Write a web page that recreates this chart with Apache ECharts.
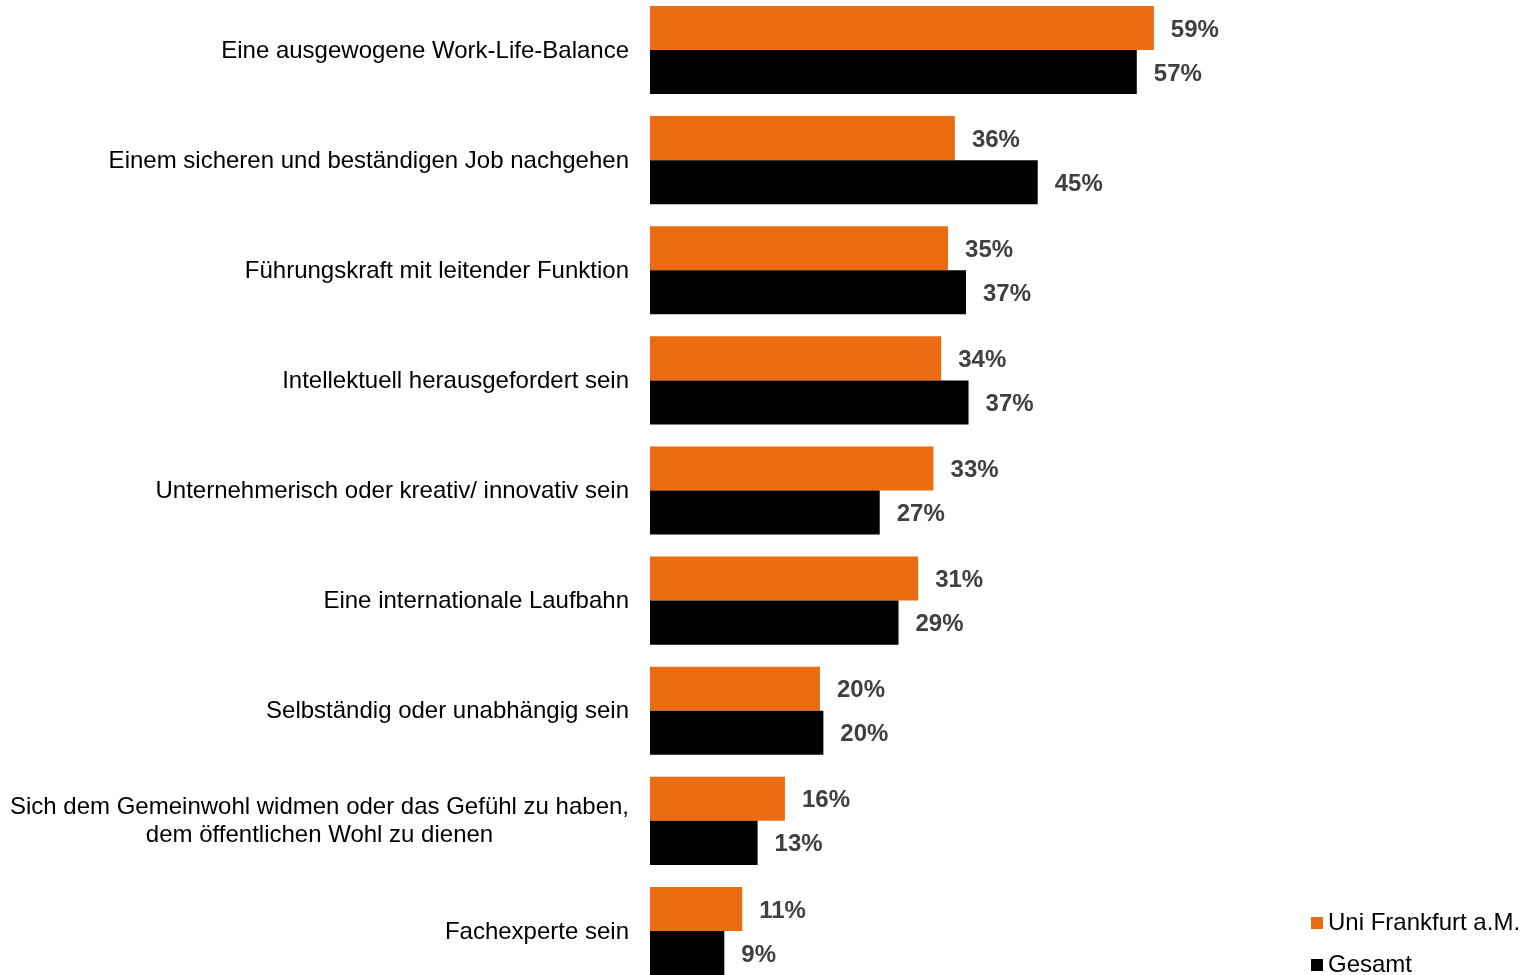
<!DOCTYPE html>
<html>
<head>
<meta charset="utf-8">
<script src="https://cdn.jsdelivr.net/npm/echarts@6/dist/echarts.min.js"></script>
<style>
html,body{margin:0;padding:0;background:#fff;overflow:hidden;}
#chart{width:1524px;height:992px;margin-top:-5px;}
</style>
</head>
<body>
<div id="chart"></div>
<script>
const categories = [
  'Eine ausgewogene Work-Life-Balance',
  'Einem sicheren und beständigen Job nachgehen',
  'Führungskraft mit leitender Funktion',
  'Intellektuell herausgefordert sein',
  'Unternehmerisch oder kreativ/ innovativ sein',
  'Eine internationale Laufbahn',
  'Selbständig oder unabhängig sein',
  'Sich dem Gemeinwohl widmen oder das Gefühl zu haben,\ndem öffentlichen Wohl zu dienen',
  'Fachexperte sein'
];
const seriesNames = ['Uni Frankfurt a.M.', 'Gesamt'];
const uniFrankfurt = [59, 35.7, 34.9, 34.1, 33.2, 31.4, 19.9, 15.8, 10.8];
const gesamt = [57, 45.4, 37.0, 37.3, 26.9, 29.1, 20.3, 12.6, 8.7];
const colors = ['#EC6C12', '#000000'];

const FONT = '"Liberation Sans", Arial, sans-serif';
const chart = echarts.init(document.getElementById('chart'));

const labelStyle = {
  show: true,
  position: 'right',
  distance: 17,
  offset: [0, 2],
  fontFamily: FONT,
  fontSize: 24,
  fontWeight: 'bold',
  color: '#404040',
  formatter: p => Math.round(p.value) + '%'
};

chart.setOption({
  animation: false,
  backgroundColor: '#ffffff',
  legend: {
    orient: 'vertical',
    left: 1311,
    top: 916,
    padding: 0,
    itemGap: 18,
    icon: 'rect',
    itemWidth: 12,
    itemHeight: 12,
    textStyle: { fontFamily: FONT, fontSize: 24, color: '#000', lineHeight: 24 },
    data: seriesNames
  },
  grid: { left: 650, top: 0, width: 854, height: 991, containLabel: false },
  xAxis: { type: 'value', min: 0, max: 100, show: false },
  yAxis: {
    type: 'category',
    inverse: true,
    data: categories,
    axisLine: { show: false },
    axisTick: { show: false },
    splitLine: { show: false },
    axisLabel: {
      margin: 21,
      fontFamily: FONT,
      fontSize: 24,
      color: '#000',
      formatter: v => v.split('\n').map(s => '{c|' + s + '}').join('\n'),
      rich: { c: { align: 'center', fontFamily: FONT, fontSize: 24, color: '#000', lineHeight: 28, padding: [2, 0, 0, 0] } }
    }
  },
  series: [
    { name: seriesNames[0], type: 'bar', data: uniFrankfurt, itemStyle: { color: colors[0] },
      barGap: '0%', barCategoryGap: '20%', label: labelStyle },
    { name: seriesNames[1], type: 'bar', data: gesamt, itemStyle: { color: colors[1] },
      barGap: '0%', barCategoryGap: '20%', label: labelStyle }
  ]
});
</script>
</body>
</html>
